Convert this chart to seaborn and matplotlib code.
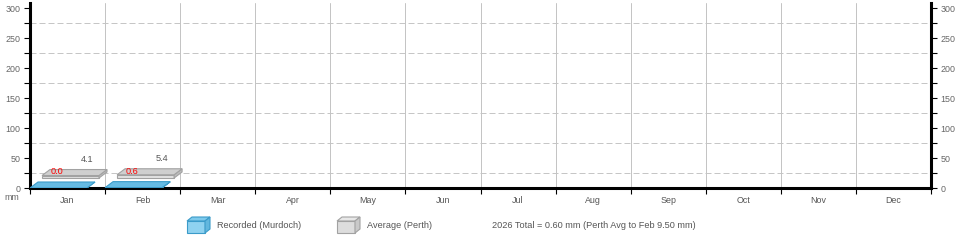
import numpy as np
import pandas as pd
import matplotlib
matplotlib.use("Agg")
import matplotlib.pyplot as plt
import seaborn as sns
from matplotlib.patches import Polygon
from matplotlib.ticker import FixedLocator

# ---------------- data ----------------
months = ["Jan", "Feb", "Mar", "Apr", "May", "Jun",
          "Jul", "Aug", "Sep", "Oct", "Nov", "Dec"]
data_months = ["Jan", "Feb"]
recorded = [0.0, 0.6]
average = [4.1, 5.4]
y_major = [0, 50, 100, 150, 200, 250, 300]
y_minor = [25, 75, 125, 175, 225, 275]
legend_labels = ["Recorded (Murdoch)", "Average (Perth)"]
summary_text = "2026 Total = 0.60 mm (Perth Avg to Feb 9.50 mm)"
unit_label = "mm"

# ---------------- style ----------------
sns.set_theme(style="white")
plt.rcParams['font.family'] = ['Liberation Sans', 'DejaVu Sans']

W, H = 960, 240
fig = plt.figure(figsize=(W / 100, H / 100), dpi=100)
AX_L, AX_R, AX_B, AX_T = 30, 931, 188, 3
ax = fig.add_axes([AX_L / W, 1 - AX_B / H, (AX_R - AX_L) / W, (AX_B - AX_T) / H])

PX_PER_MM = 0.6
YMAX = (AX_B - AX_T) / PX_PER_MM
PXX = 12 / (AX_R - AX_L)        # data units per pixel in x (12 columns)
PXY = 1 / PX_PER_MM             # mm per pixel

TICK_COL = "#666666"
TEXT_COL = "#555555"

# ---------------- bars (front faces) ----------------
BAR_W = 57 * PXX
SHIFT = -0.5 + BAR_W / 2
G_OFF_X, G_OFF_Y = 12 * PXX, 10 * PXY
DEPTH_X, DEPTH_Y = 8 * PXX, 6 * PXY

df_avg = pd.DataFrame({"month": data_months, "mm": average})
df_rec = pd.DataFrame({"month": data_months, "mm": recorded})

sns.barplot(data=df_avg, x="month", y="mm", order=months, width=BAR_W,
            color="#e3e3e3", saturation=1, edgecolor="#a2a2a2", linewidth=0.8,
            errorbar=None, ax=ax, zorder=3)
avg_bars = list(ax.patches)
sns.barplot(data=df_rec, x="month", y="mm", order=months, width=BAR_W,
            color="#6cc0e6", saturation=1, edgecolor="#3b9bc9", linewidth=0.8,
            errorbar=None, ax=ax, zorder=4)
rec_bars = list(ax.patches)[len(avg_bars):]


def add_depth(bar, top_c, side_c, edge_c, z):
    x0, y0 = bar.get_x(), bar.get_y()
    w, h = bar.get_width(), bar.get_height()
    top = Polygon([(x0, y0 + h), (x0 + w, y0 + h),
                   (x0 + w + DEPTH_X, y0 + h + DEPTH_Y), (x0 + DEPTH_X, y0 + h + DEPTH_Y)],
                  closed=True, facecolor=top_c, edgecolor=edge_c, linewidth=0.8, zorder=z)
    side = Polygon([(x0 + w, y0), (x0 + w + DEPTH_X, y0 + DEPTH_Y),
                    (x0 + w + DEPTH_X, y0 + h + DEPTH_Y), (x0 + w, y0 + h)],
                   closed=True, facecolor=side_c, edgecolor=edge_c, linewidth=0.8, zorder=z)
    ax.add_patch(side)
    ax.add_patch(top)


for bar, v in zip(avg_bars, average):
    bar.set_x(bar.get_x() + SHIFT + G_OFF_X)
    bar.set_y(G_OFF_Y)
    add_depth(bar, "#cfcfcf", "#bdbdbd", "#a2a2a2", 3)
    ax.annotate(f"{v:.1f}", xy=(bar.get_x() + bar.get_width() / 2, bar.get_y() + bar.get_height()),
                xytext=(16.5, 16.5), textcoords="offset pixels", ha="center", va="center",
                fontsize=6.6, color=TEXT_COL, zorder=6)

for bar, v in zip(rec_bars, recorded):
    bar.set_x(bar.get_x() + SHIFT)
    add_depth(bar, "#66bbe3", "#4faad6", "#3b9bc9", 4)
    ax.annotate(f"{v:.1f}", xy=(bar.get_x() + bar.get_width() / 2, bar.get_y() + bar.get_height()),
                xytext=(-1.5, 16), textcoords="offset pixels", ha="center", va="center",
                fontsize=6.6, color="#ff0000", zorder=6)

# ---------------- axes ----------------
ax.set_xlim(-0.5, len(months) - 0.5)
ax.set_ylim(0, YMAX)
ax.set_xlabel("")
ax.set_ylabel("")

for yv in y_minor:
    ax.axhline(yv, color="#c6c6c6", linewidth=0.72, linestyle=(0, (6, 3)), zorder=1)
for i in range(len(months) - 1):
    ax.axvline(i + 0.5, color="#c4c4c4", linewidth=0.72, zorder=1)

for side in ["left", "right", "bottom"]:
    ax.spines[side].set_visible(True)
    ax.spines[side].set_color("black")
    ax.spines[side].set_linewidth(2.2)
ax.spines["top"].set_visible(False)

ax.xaxis.set_major_locator(FixedLocator(list(range(len(months)))))
ax.set_xticklabels(months)
ax.xaxis.set_minor_locator(FixedLocator([i - 0.5 for i in range(len(months) + 1)]))
ax.tick_params(axis="x", which="major", length=0, pad=6, labelsize=6.4, labelcolor=TEXT_COL)
ax.tick_params(axis="x", which="minor", bottom=True, length=4, width=0.8, color="black", direction="out")

ax.yaxis.set_major_locator(FixedLocator(y_major))
ax.yaxis.set_minor_locator(FixedLocator(y_minor))
ax.tick_params(axis="y", which="both", left=True, right=True, labelleft=True, labelright=True,
               direction="out", color="black", width=0.8)
ax.tick_params(axis="y", which="major", length=4, pad=3, labelsize=6.4, labelcolor=TICK_COL)
ax.tick_params(axis="y", which="minor", length=4)
ax.grid(False)

fig.text(12 / W, 1 - 197 / H, unit_label, ha="center", va="center", fontsize=6.4, color=TICK_COL)

# ---------------- legend ----------------
def fp(x, y):
    return (x / W, 1 - y / H)


def cube(x, y, front, top, side, edge):
    w, h, dx, dy = 18, 12, 5, 4
    pts_front = [fp(x, y + dy), fp(x + w, y + dy), fp(x + w, y + dy + h), fp(x, y + dy + h)]
    pts_top = [fp(x, y + dy), fp(x + w, y + dy), fp(x + w + dx, y), fp(x + dx, y)]
    pts_side = [fp(x + w, y + dy), fp(x + w + dx, y), fp(x + w + dx, y + h), fp(x + w, y + dy + h)]
    for pts, c in [(pts_front, front), (pts_top, top), (pts_side, side)]:
        fig.add_artist(Polygon(pts, closed=True, facecolor=c, edgecolor=edge,
                               linewidth=0.8, transform=fig.transFigure))


cube(187, 217, "#8fd2f0", "#7ecaec", "#62b7de", "#3b9bc9")
cube(337, 217, "#dddddd", "#e8e8e8", "#c9c9c9", "#a2a2a2")
fig.text(217 / W, 1 - 226 / H, legend_labels[0], ha="left", va="center", fontsize=6.6, color=TEXT_COL)
fig.text(367 / W, 1 - 226 / H, legend_labels[1], ha="left", va="center", fontsize=6.6, color=TEXT_COL)
fig.text(492 / W, 1 - 226 / H, summary_text, ha="left", va="center", fontsize=6.6, color=TEXT_COL)

fig.savefig("out.png", dpi=100)
